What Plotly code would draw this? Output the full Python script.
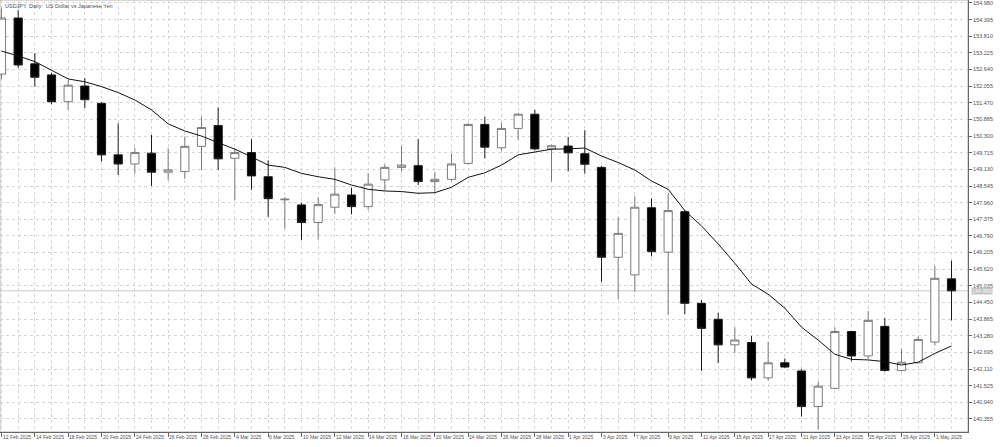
import plotly.graph_objects as go

dates = ["2025-02-12","2025-02-13","2025-02-14","2025-02-17","2025-02-18","2025-02-19","2025-02-20","2025-02-21",
         "2025-02-24","2025-02-25","2025-02-26","2025-02-27","2025-02-28","2025-03-03","2025-03-04","2025-03-05",
         "2025-03-06","2025-03-07","2025-03-10","2025-03-11","2025-03-12","2025-03-13","2025-03-14","2025-03-17",
         "2025-03-18","2025-03-19","2025-03-20","2025-03-21","2025-03-24","2025-03-25","2025-03-26","2025-03-27",
         "2025-03-28","2025-03-31","2025-04-01","2025-04-02","2025-04-03","2025-04-04","2025-04-07","2025-04-08",
         "2025-04-09","2025-04-10","2025-04-11","2025-04-14","2025-04-15","2025-04-16","2025-04-17","2025-04-18",
         "2025-04-21","2025-04-22","2025-04-23","2025-04-24","2025-04-25","2025-04-28","2025-04-29","2025-04-30",
         "2025-05-01","2025-05-02"]

open_ = [152.48,154.45,152.84,152.45,151.51,152.06,151.45,149.64,149.32,149.70,149.03,149.05,149.94,150.67,149.52,149.72,
         148.87,148.06,147.88,147.26,147.80,148.23,147.82,148.76,149.20,149.26,148.70,148.78,149.34,150.71,149.89,150.57,
         151.07,149.85,149.95,149.68,149.20,146.04,145.42,147.78,146.22,147.64,144.42,143.86,142.96,143.04,141.80,142.33,
         142.04,140.79,141.43,143.43,142.57,143.61,142.06,142.33,143.06,145.28]
high = [154.78,154.73,153.22,152.52,152.27,152.34,151.50,150.75,149.88,150.34,149.87,150.29,150.98,151.31,149.88,150.19,
        149.45,148.15,147.95,148.15,149.20,148.48,149.01,149.30,149.96,150.19,149.04,149.68,150.75,150.98,150.77,151.12,
        151.22,150.00,150.27,150.51,149.25,147.44,148.19,148.11,148.29,147.70,144.54,144.09,143.58,143.27,143.07,142.48,
        142.10,141.67,143.58,143.45,144.15,143.91,142.82,143.26,145.73,145.92]
low = [152.31,152.70,152.04,151.42,151.22,151.29,149.41,148.93,148.98,148.55,148.75,148.80,149.11,149.11,148.05,148.41,
       147.46,147.04,146.65,146.66,147.57,147.55,147.71,148.39,149.05,148.58,148.33,148.70,149.30,149.52,149.78,150.17,
       149.80,148.70,149.06,148.98,145.18,144.56,144.83,146.07,144.01,144.04,142.05,142.32,142.67,141.71,141.71,142.15,
       140.44,139.98,141.40,142.39,142.46,142.02,142.02,142.30,142.94,143.82]
close = [154.45,152.80,152.37,151.51,152.09,151.58,149.64,149.32,149.72,149.03,149.11,149.94,150.60,149.50,149.72,148.90,
         148.10,148.08,147.26,147.89,148.26,147.82,148.61,149.20,149.28,148.70,148.78,149.32,150.71,149.91,150.57,151.07,
         149.85,149.96,149.71,149.31,146.04,146.88,147.80,146.24,147.68,144.42,143.54,142.96,143.13,141.80,142.33,142.18,
         140.79,141.51,143.43,142.57,143.82,142.06,142.35,143.15,145.30,144.86]

ma_line = [153.29,153.12,152.92,152.62,152.31,152.21,152.04,151.83,151.57,151.22,150.73,150.48,150.30,150.07,149.84,149.57,
           149.28,149.20,148.99,148.87,148.78,148.58,148.43,148.37,148.35,148.29,148.31,148.50,148.85,149.01,149.28,149.64,
           149.75,149.84,149.85,149.88,149.60,149.37,149.11,148.72,148.43,147.68,147.14,146.51,145.83,145.10,144.74,144.25,
           143.58,143.13,142.63,142.45,142.43,142.37,142.25,142.35,142.66,142.92]

tick_labels = ["12 Feb 2025","14 Feb 2025","18 Feb 2025","20 Feb 2025","24 Feb 2025","26 Feb 2025","28 Feb 2025",
               "4 Mar 2025","6 Mar 2025","10 Mar 2025","12 Mar 2025","14 Mar 2025","18 Mar 2025","20 Mar 2025",
               "24 Mar 2025","26 Mar 2025","28 Mar 2025","1 Apr 2025","3 Apr 2025","7 Apr 2025","9 Apr 2025",
               "11 Apr 2025","15 Apr 2025","17 Apr 2025","21 Apr 2025","23 Apr 2025","25 Apr 2025","29 Apr 2025",
               "1 May 2025"]

price_ticks = [140.355,140.940,141.525,142.110,142.695,143.280,143.865,144.450,145.035,145.620,146.205,146.790,
               147.375,147.960,148.545,149.130,149.715,150.300,150.885,151.470,152.055,152.640,153.225,153.810,
               154.395,154.980]

title_text = "USDJPY, Daily:  US Dollar vs Japanese Yen"

FONT = "Liberation Sans"
TXT = "#505050"

idx = list(range(len(dates)))
tick_idx = idx[::2]

fig = go.Figure()
fig.add_trace(go.Candlestick(
    x=idx, open=open_, high=high, low=low, close=close,
    increasing=dict(line=dict(color="#7a7a7a", width=1), fillcolor="#ffffff"),
    decreasing=dict(line=dict(color="#1a1a1a", width=1), fillcolor="#000000"),
    whiskerwidth=0, showlegend=False, hoverinfo="skip"))
fig.add_trace(go.Scatter(x=idx, y=ma_line, mode="lines",
                         line=dict(color="#111111", width=1), showlegend=False, hoverinfo="skip"))

last_close = close[-1]

annotations = [dict(x=0.003, y=0.998, xref="paper", yref="paper", xanchor="left", yanchor="top",
                    text=title_text, showarrow=False, font=dict(size=5.5, color=TXT, family=FONT))]
for i, lab in zip(tick_idx, tick_labels):
    annotations.append(dict(x=i, y=0, xref="x", yref="paper", xanchor="left", yanchor="top",
                            text=lab, showarrow=False, xshift=-1, yshift=0,
                            font=dict(size=5, color=TXT, family=FONT)))
annotations.append(dict(x=1, y=last_close, xref="paper", yref="y", xanchor="left", yanchor="middle",
                        text=f"{last_close:.3f}", showarrow=False, xshift=3, bgcolor="#c4c4c4",
                        font=dict(size=5.5, color="#f4f4f4", family=FONT), borderpad=0))

fig.update_layout(
    template="none",
    width=1000, height=447,
    margin=dict(l=0, r=32, t=0, b=15, autoexpand=False),
    paper_bgcolor="white", plot_bgcolor="white",
    hovermode=False,
    annotations=annotations,
    xaxis=dict(range=[-0.09, 57.99], tickvals=tick_idx, showticklabels=False, automargin=False,
               ticks="outside", ticklen=4, tickcolor="#666666", tickwidth=1,
               showgrid=True, gridcolor="#d4d4d4", griddash="dot", gridwidth=1,
               minor=dict(dtick=1, tick0=0, showgrid=True, gridcolor="#d4d4d4", griddash="dot", gridwidth=1),
               showline=True, linecolor="#666666", linewidth=1, mirror=False,
               zeroline=False, rangeslider=dict(visible=False)),
    yaxis=dict(side="right", range=[139.896, 155.085], tickvals=price_ticks,
               ticktext=[f"{v:.3f}" for v in price_ticks], ticklabeloverflow="allow",
               automargin=False, ticks="outside", ticklen=3, tickcolor="#666666", tickwidth=1,
               tickfont=dict(size=5.5, color=TXT, family=FONT),
               showgrid=True, gridcolor="#d4d4d4", griddash="dot", gridwidth=1,
               showline=True, linecolor="#666666", linewidth=1, zeroline=False),
    shapes=[dict(type="line", xref="paper", yref="y", x0=0, x1=1, y0=last_close, y1=last_close,
                 line=dict(color="#c8c8c8", width=1), layer="below"),
            dict(type="rect", xref="paper", yref="paper", x0=0, y0=0, x1=1, y1=1,
                 line=dict(color="#b0b0b0", width=1), layer="below")],
)

fig.write_html("out.html", config={"displayModeBar": False},
               post_script="document.body.style.margin='0';document.body.style.overflow='hidden';")
